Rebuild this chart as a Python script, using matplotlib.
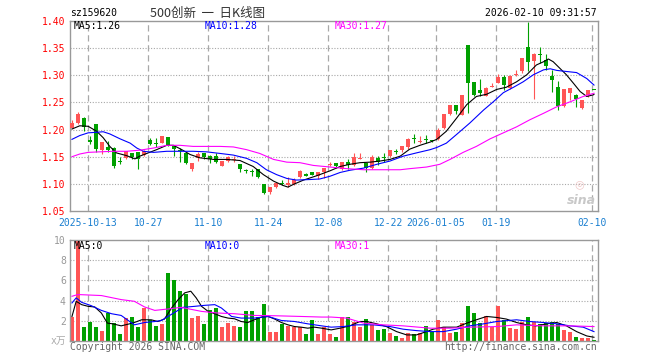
import numpy as np
import matplotlib
matplotlib.use("Agg")
import matplotlib.pyplot as plt

plt.rcParams['font.family'] = ['DejaVu Sans Mono', 'Noto Sans CJK SC']

# ---- data ----
opens = [1.203, 1.213, 1.222, 1.179, 1.210, 1.162, 1.168, 1.166, 1.141, 1.148,
         1.156, 1.158, 1.154, 1.180, 1.175, 1.176, 1.187, 1.170, 1.162, 1.156,
         1.128, 1.148, 1.156, 1.152, 1.151, 1.133, 1.142, 1.144, 1.136, 1.125,
         1.123, 1.128, 1.099, 1.085, 1.095, 1.100, 1.098, 1.099, 1.112, 1.119,
         1.122, 1.114, 1.121, 1.135, 1.138, 1.127, 1.141, 1.134, 1.146, 1.138,
         1.129, 1.147, 1.148, 1.151, 1.160, 1.163, 1.167, 1.183, 1.177, 1.183,
         1.180, 1.182, 1.202, 1.228, 1.245, 1.227, 1.356, 1.288, 1.273, 1.262,
         1.279, 1.285, 1.297, 1.276, 1.301, 1.307, 1.353, 1.327, 1.339, 1.328,
         1.299, 1.278, 1.243, 1.267, 1.264, 1.239, 1.264, 1.273]
highs = [1.218, 1.232, 1.223, 1.188, 1.210, 1.178, 1.179, 1.168, 1.150, 1.160,
         1.156, 1.158, 1.162, 1.184, 1.184, 1.189, 1.187, 1.171, 1.166, 1.157,
         1.138, 1.158, 1.157, 1.154, 1.156, 1.142, 1.152, 1.152, 1.136, 1.127,
         1.127, 1.128, 1.099, 1.095, 1.101, 1.107, 1.113, 1.110, 1.125, 1.120,
         1.122, 1.121, 1.130, 1.140, 1.138, 1.141, 1.146, 1.157, 1.157, 1.138,
         1.153, 1.151, 1.157, 1.163, 1.164, 1.170, 1.185, 1.191, 1.188, 1.190,
         1.181, 1.202, 1.228, 1.245, 1.245, 1.264, 1.356, 1.288, 1.293, 1.278,
         1.285, 1.302, 1.301, 1.301, 1.309, 1.331, 1.399, 1.341, 1.353, 1.340,
         1.309, 1.290, 1.275, 1.276, 1.265, 1.254, 1.273, 1.273]
lows = [1.203, 1.211, 1.198, 1.173, 1.158, 1.155, 1.158, 1.130, 1.137, 1.146,
        1.146, 1.128, 1.152, 1.172, 1.167, 1.175, 1.170, 1.152, 1.140, 1.137,
        1.124, 1.142, 1.145, 1.138, 1.138, 1.132, 1.140, 1.140, 1.121, 1.120,
        1.115, 1.110, 1.081, 1.081, 1.093, 1.097, 1.095, 1.098, 1.110, 1.114,
        1.116, 1.109, 1.111, 1.133, 1.130, 1.125, 1.127, 1.132, 1.145, 1.121,
        1.127, 1.134, 1.141, 1.149, 1.155, 1.158, 1.165, 1.175, 1.175, 1.175,
        1.178, 1.181, 1.201, 1.226, 1.228, 1.227, 1.230, 1.261, 1.261, 1.261,
        1.278, 1.285, 1.272, 1.275, 1.299, 1.305, 1.307, 1.257, 1.322, 1.310,
        1.270, 1.236, 1.242, 1.254, 1.242, 1.237, 1.260, 1.272]
closes = [1.212, 1.228, 1.204, 1.178, 1.164, 1.178, 1.162, 1.132, 1.140, 1.160,
          1.150, 1.146, 1.161, 1.173, 1.174, 1.189, 1.170, 1.164, 1.160, 1.138,
          1.138, 1.155, 1.149, 1.146, 1.140, 1.142, 1.150, 1.145, 1.127, 1.124,
          1.122, 1.112, 1.083, 1.095, 1.101, 1.099, 1.101, 1.107, 1.124, 1.115,
          1.116, 1.121, 1.129, 1.137, 1.132, 1.141, 1.134, 1.149, 1.148, 1.129,
          1.149, 1.141, 1.147, 1.163, 1.159, 1.169, 1.182, 1.182, 1.178, 1.181,
          1.179, 1.199, 1.228, 1.245, 1.234, 1.264, 1.285, 1.264, 1.268, 1.276,
          1.280, 1.296, 1.282, 1.299, 1.303, 1.331, 1.325, 1.340, 1.338, 1.317,
          1.291, 1.243, 1.274, 1.276, 1.257, 1.254, 1.272, 1.272]
volumes = [2.33, 9.9, 1.43, 1.93, 1.43, 1.03, 2.77, 1.83, 0.67, 2.27,
           2.37, 1.37, 3.27, 2.03, 1.53, 1.70, 6.77, 6.0, 4.93, 4.70,
           2.27, 2.50, 1.67, 3.1, 3.27, 1.37, 1.83, 1.5, 1.43, 2.93,
           2.93, 2.37, 3.67, 0.93, 0.93, 1.7, 1.5, 1.43, 1.43, 0.7,
           2.03, 0.7, 1.43, 0.7, 0.43, 2.33, 2.33, 1.93, 1.43, 2.2,
           1.6, 1.1, 1.2, 0.83, 0.53, 0.27, 0.77, 0.7, 0.83, 1.5,
           0.93, 2.03, 1.43, 0.77, 0.93, 1.83, 3.43, 2.77, 1.77, 2.43,
           1.43, 3.43, 2.1, 1.27, 1.17, 1.93, 2.33, 1.93, 1.7, 1.83,
           1.93, 1.7, 1.1, 0.93, 0.43, 0.33, 0.33, 0.1]

# moving average lines (day index, value)
ma5_x = [0, 1.3, 2.7, 4.1, 5.2, 6.3, 7.4, 9.1, 10.5, 11.3, 12.7, 14.1, 15.8, 16.9, 18.3,
         19.7, 21.3, 23.6, 25.8, 28, 30.2, 31.9, 33.6, 35.2, 36, 36.9, 38.6, 40.8, 43,
         44.7, 46.3, 48, 49.7, 51.3, 53, 54.7, 56.3, 58, 59.7, 60.8, 62.4, 64.1, 65.8,
         67.4, 69.1, 70.8, 72.4, 74.1, 75.8, 77.4, 78.6, 79.4, 80.2, 81.3, 82.4, 83.6,
         84.7, 85.8, 86.9, 87]
ma5_v = [1.201, 1.207, 1.206, 1.197, 1.185, 1.169, 1.157, 1.152, 1.146, 1.151, 1.157,
         1.163, 1.171, 1.171, 1.163, 1.154, 1.148, 1.145, 1.145, 1.143, 1.132, 1.117,
         1.105, 1.097, 1.094, 1.099, 1.107, 1.115, 1.124, 1.132, 1.136, 1.139, 1.140,
         1.142, 1.145, 1.151, 1.164, 1.171, 1.177, 1.182, 1.197, 1.221, 1.246, 1.261,
         1.265, 1.274, 1.278, 1.288, 1.301, 1.319, 1.325, 1.330, 1.325, 1.313, 1.301,
         1.285, 1.270, 1.261, 1.264, 1.265]
ma10_x = [0, 1.3, 2.7, 4.1, 5.2, 6.3, 8, 9.7, 10.8, 11.9, 13.6, 15.8, 18, 20.2, 22.4,
          24.7, 26.9, 29.1, 30.8, 32.4, 34.1, 35.8, 37.4, 39.7, 41.3, 43, 44.7, 46.3,
          48.6, 50.8, 53, 55.2, 57.4, 59.7, 60.8, 62.4, 64.1, 66.3, 68.6, 70.2, 71.9,
          73.6, 75.2, 76.9, 78.6, 79.7, 80.8, 82.4, 84.1, 85.8, 87]
ma10_v = [1.182, 1.189, 1.194, 1.195, 1.196, 1.192, 1.183, 1.175, 1.166, 1.160, 1.158,
          1.160, 1.160, 1.160, 1.159, 1.156, 1.153, 1.147, 1.139, 1.126, 1.117, 1.110,
          1.107, 1.108, 1.109, 1.114, 1.121, 1.125, 1.129, 1.136, 1.142, 1.151, 1.157,
          1.163, 1.167, 1.175, 1.191, 1.212, 1.236, 1.251, 1.268, 1.278, 1.288, 1.301,
          1.310, 1.312, 1.309, 1.307, 1.305, 1.294, 1.282]
ma30_x = [0, 1.3, 2.7, 4.7, 6.9, 9.1, 11.3, 13.6, 15.8, 18, 20.2, 22.4, 24.7, 26.9, 29.1,
          31.3, 33.6, 35.8, 38, 40.2, 43, 45.8, 48.6, 51.3, 54.7, 56.3, 59.1, 61.3, 63,
          65.2, 67.4, 69.7, 71.9, 74.1, 76.3, 78.6, 80.8, 83, 85.2, 87]
ma30_v = [1.150, 1.155, 1.158, 1.159, 1.160, 1.160, 1.162, 1.166, 1.171, 1.171, 1.169,
          1.169, 1.169, 1.168, 1.163, 1.156, 1.145, 1.140, 1.139, 1.134, 1.131, 1.128,
          1.126, 1.126, 1.126, 1.128, 1.131, 1.136, 1.145, 1.158, 1.169, 1.183, 1.194,
          1.205, 1.218, 1.230, 1.242, 1.251, 1.261, 1.267]

vma5_x = [0, 0.7, 1.6, 2.7, 3.8, 4.9, 5.9, 6.8, 8.2, 9.6, 10.4, 11.6, 13.2, 14.3, 15.4,
          16.6, 17.7, 18.8, 19.8, 20.7, 21.6, 22.7, 23.8, 24.9, 26, 27.1, 28.2, 29.3,
          30.4, 31.6, 32.7, 33.8, 34.9, 36, 37.1, 38.2, 39.3, 40.4, 41.6, 43.2, 44.7,
          46.3, 48, 49.1, 50.8, 52.4, 54.1, 55.8, 57.4, 59.1, 60.2, 61.9, 64.1, 65.8,
          67.4, 69.1, 70.8, 72.4, 74.1, 75.8, 77.4, 79.1, 80.8, 82.4, 84.1, 85.8, 87]
vma5_v = [2.43, 3.93, 3.6, 3.43, 3.37, 2.77, 1.77, 1.7, 1.5, 1.7, 1.83, 2.1, 2.1, 1.93,
          2.17, 3.27, 4.1, 4.77, 4.93, 4.27, 3.43, 2.93, 2.7, 2.43, 2.27, 2.2, 1.93, 1.83,
          2.1, 2.37, 2.43, 2.17, 1.83, 1.6, 1.43, 1.37, 1.27, 1.37, 1.27, 1.1, 1.27, 1.5,
          1.93, 1.93, 1.7, 1.43, 0.93, 0.6, 0.6, 0.93, 1.17, 1.37, 1.37, 1.77, 2.1, 2.43,
          2.33, 2.17, 1.83, 1.6, 1.5, 1.7, 1.83, 1.5, 0.93, 0.5, 0.37]
vma10_x = [0, 0.7, 1.6, 3.2, 4.9, 6.6, 8.2, 10.4, 12.1, 13.8, 14.9, 16, 17.1, 18.5, 20.4,
           22.1, 23.8, 24.9, 26.6, 28.2, 30.4, 32.7, 34.9, 37.1, 39.3, 41.6, 43.2, 45.2,
           47.4, 50.2, 53, 55.2, 57.4, 59.7, 61.9, 64.1, 66.3, 68.6, 70.8, 74.1, 76.3,
           78.6, 80.8, 83, 85.2, 87]
vma10_v = [3.77, 4.27, 3.83, 3.5, 3.03, 2.7, 2.53, 1.6, 1.83, 1.93, 2.03, 2.43, 2.83,
           3.33, 3.43, 3.53, 3.6, 3.27, 2.43, 2.27, 2.27, 2.43, 2.03, 1.93, 1.7, 1.5,
           1.37, 1.43, 1.6, 1.6, 1.43, 1.17, 1.03, 0.93, 0.93, 1.17, 1.5, 1.7, 1.93, 2.1,
           1.93, 1.83, 1.7, 1.5, 1.37, 0.93]
vma30_x = [0, 1, 4.9, 8.2, 10.4, 12.1, 13.8, 16, 18.2, 21.6, 24.3, 27.1, 30.4, 33.8, 38.2,
           41.6, 43.2, 45.8, 48.6, 51.9, 55.2, 59.7, 63, 66.3, 70.8, 74.1, 78.6, 83, 87]
vma30_v = [4.43, 4.6, 4.5, 4.1, 3.93, 3.37, 3.03, 3.17, 3.33, 2.93, 2.77, 2.7, 2.53, 2.5,
           2.43, 2.37, 2.37, 2.27, 1.77, 1.6, 1.5, 1.27, 1.27, 1.37, 1.43, 1.6, 1.5, 1.5,
           1.43]

date_idx = [3, 13, 23, 33, 43, 53, 61, 71, 87]
date_labels = ['2025-10-13', '10-27', '11-10', '11-24', '12-08', '12-22',
               '2026-01-05', '01-19', '02-10']
price_ticks = [1.05, 1.10, 1.15, 1.20, 1.25, 1.30, 1.35, 1.40]
vol_ticks = [2, 4, 6, 8, 10]

# ---- figure ----
W, H = 660, 360
fig = plt.figure(figsize=(W / 100, H / 100), dpi=100)


def fx(x):
    return x / W


def fy(y):
    return 1 - y / H


ax = fig.add_axes([fx(70), fy(211), 528 / W, 190 / H])
axv = fig.add_axes([fx(70), fy(341), 528 / W, 101 / H])

RED = '#ff5555'
GREEN = '#00a000'
GRID = '#a8a8a8'
idx = np.arange(len(closes))
o = np.array(opens)
c = np.array(closes)
colors = [RED if cc >= oo else GREEN for oo, cc in zip(o, c)]

for a in (ax, axv):
    a.set_xlim(-0.33, 87.67)
    for s in a.spines.values():
        s.set_color('#999999')
        s.set_linewidth(1)
    for d in date_idx:
        a.axvline(d - 0.3, color=GRID, lw=0.9, ls=(0, (5, 3)), zorder=0)

# price panel
for p in price_ticks[1:-1]:
    ax.axhline(p, color=GRID, lw=0.8, ls=(0, (1, 1.5)), zorder=0)
ax.vlines(idx, lows, highs, colors=colors, lw=0.8, zorder=2)
ax.bar(idx, np.maximum(np.abs(c - o), 0.0019), bottom=np.minimum(o, c),
       width=0.72, color=colors, lw=0, zorder=3)
ax.plot(ma5_x, ma5_v, color='black', lw=0.8, zorder=4)
ax.plot(ma10_x, ma10_v, color='#0000ff', lw=0.8, zorder=4)
ax.plot(ma30_x, ma30_v, color='#ff00ff', lw=0.8, zorder=4)
ax.set_ylim(1.05, 1.40)
ax.set_yticks(price_ticks)
ax.set_yticklabels(['%.2f' % p for p in price_ticks])
ax.tick_params(axis='y', length=0, pad=3, labelcolor='#ff0000', labelsize=7)
ax.set_xticks([d - 0.3 for d in date_idx])
ax.set_xticklabels(date_labels)
ax.tick_params(axis='x', length=0, pad=5, labelcolor='#1a7fd0', labelsize=7)

# volume panel
for v in vol_ticks[:-1]:
    axv.axhline(v, color=GRID, lw=0.8, ls=(0, (1, 1.5)), zorder=0)
axv.bar(idx, volumes, width=0.8, color=colors, lw=0, zorder=2)
axv.plot(vma5_x, vma5_v, color='black', lw=0.8, zorder=4)
axv.plot(vma10_x, vma10_v, color='#0000ff', lw=0.8, zorder=4)
axv.plot(vma30_x, vma30_v, color='#ff00ff', lw=0.8, zorder=4)
axv.set_ylim(0, 10)
axv.set_yticks(vol_ticks)
axv.set_yticklabels([str(v) for v in vol_ticks])
axv.tick_params(axis='y', length=0, pad=3, labelcolor='#999999', labelsize=7)
axv.set_xticks([])

# texts
mono = 7
fig.text(fx(70), fy(13), 'sz159620', fontsize=mono, va='center', ha='left')
fig.text(fx(150), fy(13), '500创新  一  日K线图', fontsize=9, va='center', ha='left',
         color='#333333', family=['Noto Sans CJK SC', 'DejaVu Sans'])
fig.text(fx(597), fy(13), '2026-02-10 09:31:57', fontsize=mono, va='center', ha='right')

fig.text(fx(74), fy(26), 'MA5:1.26', fontsize=mono, va='center', color='black')
fig.text(fx(205), fy(26), 'MA10:1.28', fontsize=mono, va='center', color='#0000ff')
fig.text(fx(335), fy(26), 'MA30:1.27', fontsize=mono, va='center', color='#ff00ff')

fig.text(fx(74), fy(246), 'MA5:0', fontsize=mono, va='center', color='black')
fig.text(fx(205), fy(246), 'MA10:0', fontsize=mono, va='center', color='#0000ff')
fig.text(fx(335), fy(246), 'MA30:1', fontsize=mono, va='center', color='#ff00ff')

fig.text(fx(66), fy(341), 'x万', fontsize=7, va='center', ha='right', color='#aaaaaa',
         family=['DejaVu Sans Mono', 'Noto Sans CJK SC'])
fig.text(fx(70), fy(347), 'Copyright 2026 SINA.COM', fontsize=mono, va='center',
         ha='left', color='#666666')
fig.text(fx(597), fy(347), 'http://finance.sina.com.cn', fontsize=mono, va='center',
         ha='right', color='#666666')

# sina watermark
fig.text(fx(579), fy(184), '◎', fontsize=8, va='center', ha='center',
         color='#f0c8c8', family='DejaVu Sans')
fig.text(fx(581), fy(200), 'sina', fontsize=9, va='center', ha='center',
         color='#c8c8c8', style='italic', weight='bold', family='DejaVu Sans')

fig.savefig('out.png', dpi=100)
